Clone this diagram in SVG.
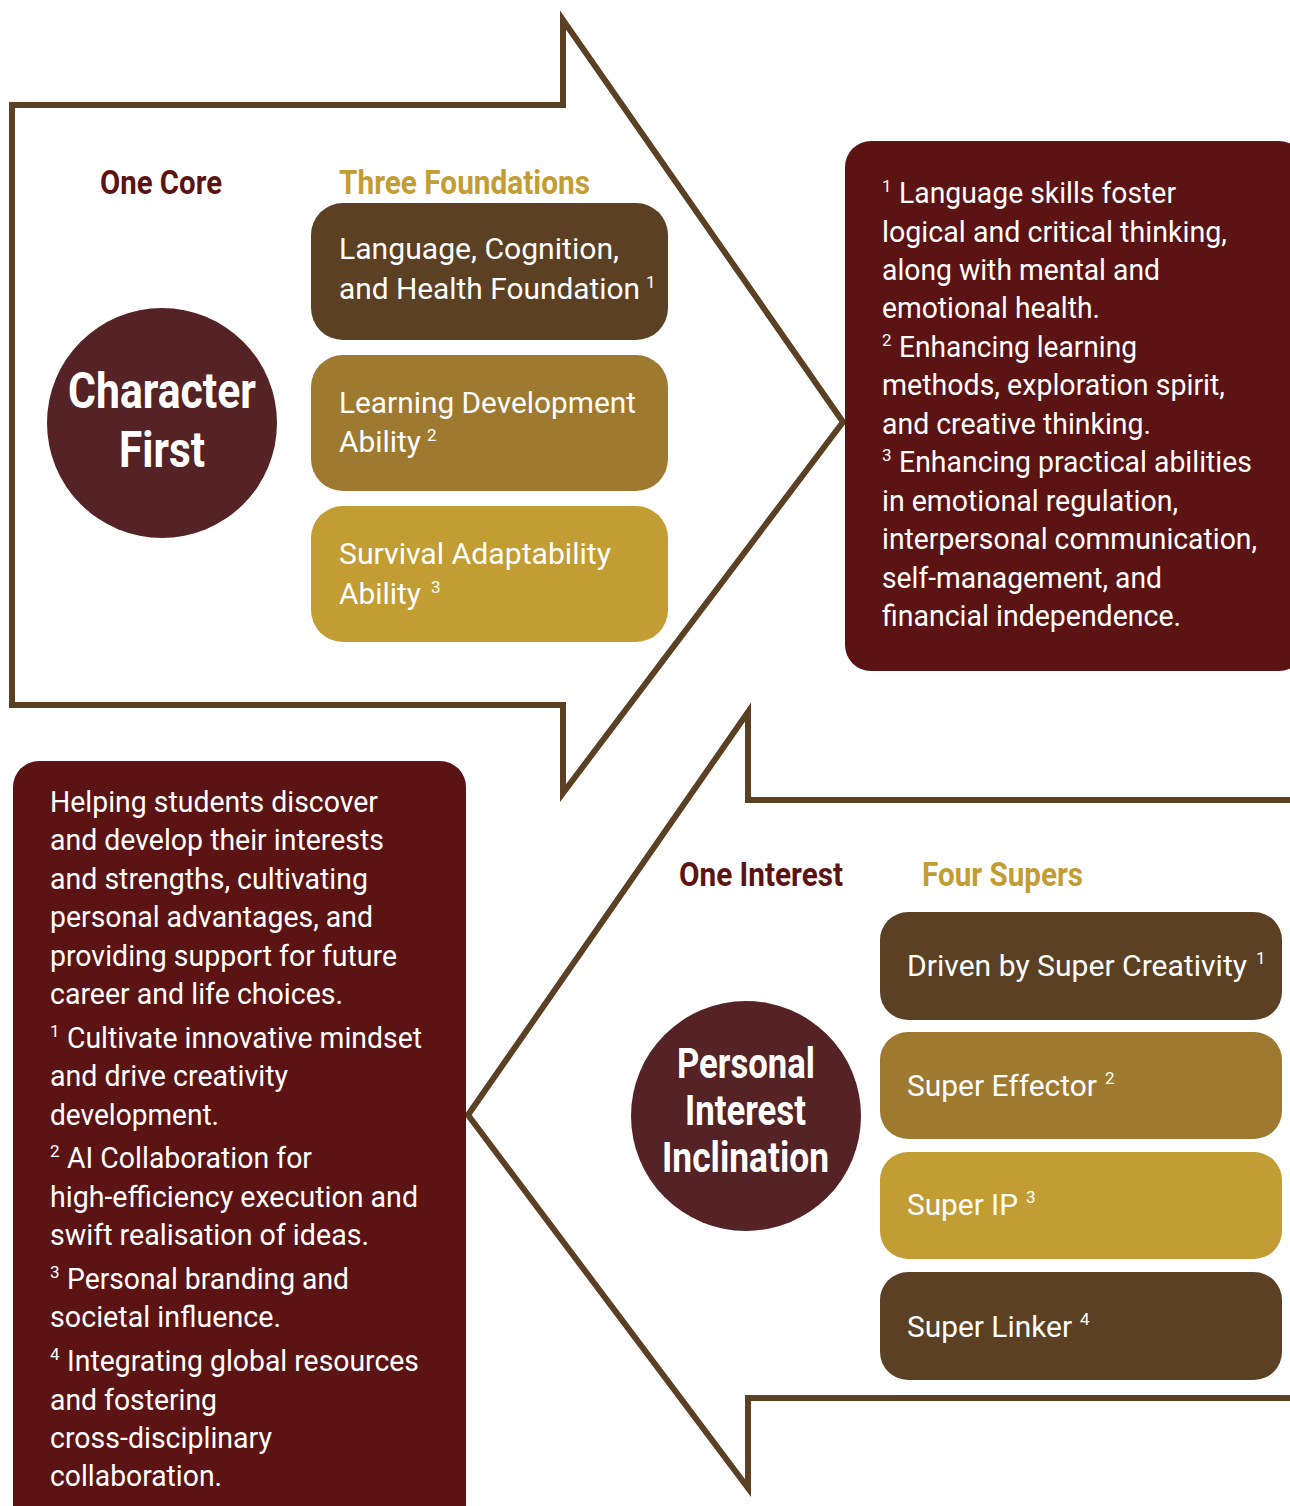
<svg xmlns="http://www.w3.org/2000/svg" width="1290" height="1506" viewBox="0 0 1290 1506">
<style>
.arrow{fill:#fff;stroke:#5b4024;stroke-width:6;stroke-linejoin:miter;stroke-miterlimit:20}
.t{font-family:Roboto,"Liberation Sans",sans-serif;fill:#fff;font-size:30px}
.r{font-size:30px}
.b{font-family:Roboto,"Liberation Sans",sans-serif;font-weight:bold}
.sup{font-family:Roboto,"Liberation Sans",sans-serif;fill:#fff;font-size:17px}
.hr{fill:#5c1313;font-size:33px}
.hg{fill:#c29d33;font-size:33px}
.ct{fill:#fff}
.dark{fill:#5b4024}.mid{fill:#9e7930}.gold{fill:#c29d33}
.box{fill:#5c1313}
.circ{fill:#552325}
</style>
<rect width="1290" height="1506" fill="#fff"/>
<g id="connectors">
<path class="arrow" d="M12,105 L563,105 L563,20 L843,422 L563,793 L563,705 L12,705 Z"/>
<path class="arrow" d="M1296,800 L748,800 L748,712 L468,1115 L748,1488 L748,1398 L1296,1398"/>
</g>
<g id="header-one-core"><text class="b hr" x="100" y="194" textLength="122" lengthAdjust="spacingAndGlyphs">One Core</text></g>
<g id="header-three-foundations"><text class="b hg" x="339" y="194" textLength="251" lengthAdjust="spacingAndGlyphs">Three Foundations</text></g>
<g id="node-character-first">
<circle class="circ" cx="162" cy="423" r="115"/>
<text class="b ct" x="68" y="408" font-size="50" textLength="188" lengthAdjust="spacingAndGlyphs">Character</text>
<text class="b ct" x="119" y="467" font-size="50" textLength="86" lengthAdjust="spacingAndGlyphs">First</text>
</g>
<g id="node-foundation-1">
<rect class="dark" x="311" y="203" width="357" height="137" rx="32"/>
<text class="t r" x="339" y="259" textLength="280" lengthAdjust="spacingAndGlyphs">Language, Cognition,</text>
<text class="t r" x="339" y="299" textLength="301" lengthAdjust="spacingAndGlyphs">and Health Foundation</text>
<text class="sup" x="646" y="288">1</text>
</g>
<g id="node-foundation-2">
<rect class="mid" x="311" y="355" width="357" height="136" rx="32"/>
<text class="t r" x="339" y="413" textLength="297" lengthAdjust="spacingAndGlyphs">Learning Development</text>
<text class="t r" x="339" y="452" textLength="82" lengthAdjust="spacingAndGlyphs">Ability</text>
<text class="sup" x="427" y="441">2</text>
</g>
<g id="node-foundation-3">
<rect class="gold" x="311" y="506" width="357" height="136" rx="32"/>
<text class="t r" x="339" y="564" textLength="272" lengthAdjust="spacingAndGlyphs">Survival Adaptability</text>
<text class="t r" x="339" y="604" textLength="82" lengthAdjust="spacingAndGlyphs">Ability</text>
<text class="sup" x="431" y="593">3</text>
</g>
<g id="node-foundation-notes">
<rect class="box" x="845" y="141" width="460" height="530" rx="26"/>
<text class="sup" x="882" y="192">1</text>
<text class="t" x="899" y="203" textLength="277" lengthAdjust="spacingAndGlyphs">Language skills foster</text>
<text class="t" x="882" y="242" textLength="345" lengthAdjust="spacingAndGlyphs">logical and critical thinking,</text>
<text class="t" x="882" y="280" textLength="278" lengthAdjust="spacingAndGlyphs">along with mental and</text>
<text class="t" x="882" y="318" textLength="218" lengthAdjust="spacingAndGlyphs">emotional health.</text>
<text class="sup" x="882" y="346">2</text>
<text class="t" x="899" y="357" textLength="238" lengthAdjust="spacingAndGlyphs">Enhancing learning</text>
<text class="t" x="882" y="395" textLength="343" lengthAdjust="spacingAndGlyphs">methods, exploration spirit,</text>
<text class="t" x="882" y="434" textLength="269" lengthAdjust="spacingAndGlyphs">and creative thinking.</text>
<text class="sup" x="882" y="461">3</text>
<text class="t" x="899" y="472" textLength="353" lengthAdjust="spacingAndGlyphs">Enhancing practical abilities</text>
<text class="t" x="882" y="511" textLength="296" lengthAdjust="spacingAndGlyphs">in emotional regulation,</text>
<text class="t" x="882" y="549" textLength="375" lengthAdjust="spacingAndGlyphs">interpersonal communication,</text>
<text class="t" x="882" y="588" textLength="280" lengthAdjust="spacingAndGlyphs">self-management, and</text>
<text class="t" x="882" y="626" textLength="299" lengthAdjust="spacingAndGlyphs">financial independence.</text>
</g>
<g id="header-one-interest"><text class="b hr" x="679" y="886" textLength="164" lengthAdjust="spacingAndGlyphs">One Interest</text></g>
<g id="header-four-supers"><text class="b hg" x="922" y="886" textLength="161" lengthAdjust="spacingAndGlyphs">Four Supers</text></g>
<g id="node-personal-interest">
<circle class="circ" cx="746" cy="1116" r="115"/>
<text class="b ct" x="677" y="1078" font-size="42" textLength="138" lengthAdjust="spacingAndGlyphs">Personal</text>
<text class="b ct" x="685" y="1125" font-size="42" textLength="121" lengthAdjust="spacingAndGlyphs">Interest</text>
<text class="b ct" x="662" y="1172" font-size="42" textLength="167" lengthAdjust="spacingAndGlyphs">Inclination</text>
</g>
<g id="node-super-1">
<rect class="dark" x="880" y="912" width="402" height="108" rx="28"/>
<text class="t r" x="907" y="976" textLength="340" lengthAdjust="spacingAndGlyphs">Driven by Super Creativity</text>
<text class="sup" x="1256" y="964">1</text>
</g>
<g id="node-super-2">
<rect class="mid" x="880" y="1032" width="402" height="107" rx="28"/>
<text class="t r" x="907" y="1096" textLength="190" lengthAdjust="spacingAndGlyphs">Super Effector</text>
<text class="sup" x="1105" y="1084">2</text>
</g>
<g id="node-super-3">
<rect class="gold" x="880" y="1152" width="402" height="107" rx="28"/>
<text class="t r" x="907" y="1215" textLength="111" lengthAdjust="spacingAndGlyphs">Super IP</text>
<text class="sup" x="1026" y="1203">3</text>
</g>
<g id="node-super-4">
<rect class="dark" x="880" y="1272" width="402" height="108" rx="28"/>
<text class="t r" x="907" y="1337" textLength="165" lengthAdjust="spacingAndGlyphs">Super Linker</text>
<text class="sup" x="1080" y="1325">4</text>
</g>
<g id="node-interest-notes">
<rect class="box" x="13" y="761" width="453" height="780" rx="26"/>
<text class="t" x="50" y="812" textLength="328" lengthAdjust="spacingAndGlyphs">Helping students discover</text>
<text class="t" x="50" y="850" textLength="334" lengthAdjust="spacingAndGlyphs">and develop their interests</text>
<text class="t" x="50" y="889" textLength="318" lengthAdjust="spacingAndGlyphs">and strengths, cultivating</text>
<text class="t" x="50" y="927" textLength="323" lengthAdjust="spacingAndGlyphs">personal advantages, and</text>
<text class="t" x="50" y="966" textLength="347" lengthAdjust="spacingAndGlyphs">providing support for future</text>
<text class="t" x="50" y="1004" textLength="293" lengthAdjust="spacingAndGlyphs">career and life choices.</text>
<text class="sup" x="50" y="1037">1</text>
<text class="t" x="67" y="1048" textLength="355" lengthAdjust="spacingAndGlyphs">Cultivate innovative mindset</text>
<text class="t" x="50" y="1086" textLength="238" lengthAdjust="spacingAndGlyphs">and drive creativity</text>
<text class="t" x="50" y="1125" textLength="169" lengthAdjust="spacingAndGlyphs">development.</text>
<text class="sup" x="50" y="1157">2</text>
<text class="t" x="67" y="1168" textLength="245" lengthAdjust="spacingAndGlyphs">AI Collaboration for</text>
<text class="t" x="50" y="1207" textLength="368" lengthAdjust="spacingAndGlyphs">high-efficiency execution and</text>
<text class="t" x="50" y="1245" textLength="319" lengthAdjust="spacingAndGlyphs">swift realisation of ideas.</text>
<text class="sup" x="50" y="1278">3</text>
<text class="t" x="67" y="1289" textLength="282" lengthAdjust="spacingAndGlyphs">Personal branding and</text>
<text class="t" x="50" y="1327" textLength="231" lengthAdjust="spacingAndGlyphs">societal influence.</text>
<text class="sup" x="50" y="1360">4</text>
<text class="t" x="67" y="1371" textLength="352" lengthAdjust="spacingAndGlyphs">Integrating global resources</text>
<text class="t" x="50" y="1410" textLength="167" lengthAdjust="spacingAndGlyphs">and fostering</text>
<text class="t" x="50" y="1448" textLength="222" lengthAdjust="spacingAndGlyphs">cross-disciplinary</text>
<text class="t" x="50" y="1486" textLength="172" lengthAdjust="spacingAndGlyphs">collaboration.</text>
</g>
</svg>
